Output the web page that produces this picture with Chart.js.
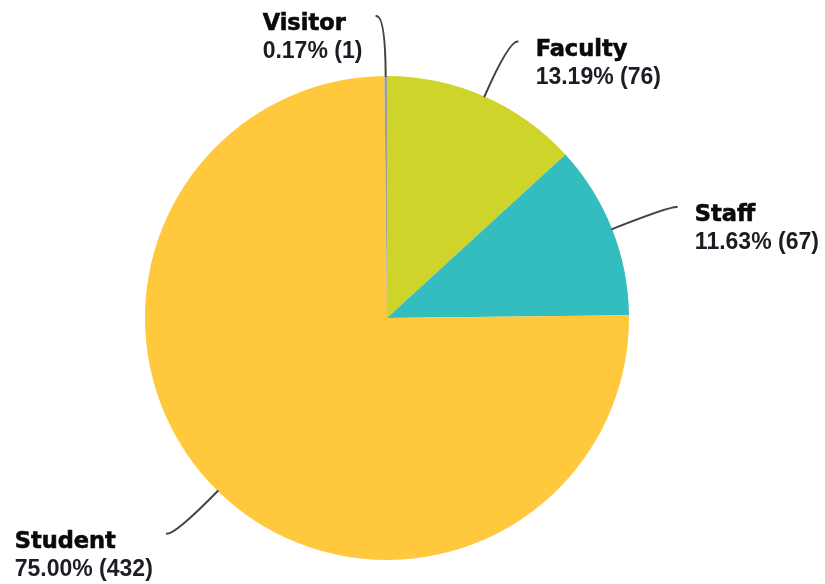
<!DOCTYPE html>
<html>
<head>
<meta charset="utf-8">
<script src="https://cdn.jsdelivr.net/npm/chart.js@4/dist/chart.umd.min.js"></script>
<style>
  html, body { margin: 0; padding: 0; background: #fff; }
  #wrap { width: 825px; height: 584px; position: relative; }
</style>
</head>
<body>
<div id="wrap"><canvas id="pie"></canvas></div>
<script>
(function () {
  "use strict";

  // ─── Data ──────────────────────────────────────────────────────────────────

  const categories = ["Faculty", "Staff", "Student", "Visitor"];
  const counts = [76, 67, 432, 1];
  const percentLabels = ["13.19%", "11.63%", "75.00%", "0.17%"];
  const colors = ["#CFD42A", "#33BDBF", "#FFC83D", "#9E9E9E"];

  // ─── Leader-line labels ───────────────────────────────────────────────────

  const NAME_FONT = "bold 22.5px 'DejaVu Sans', sans-serif";
  const VALUE_FONT = "bold 23px 'Liberation Sans', Arial, sans-serif";

  const calloutPlugin = {
    id: "callouts",
    afterDatasetsDraw(chart) {
      const ctx = chart.ctx;
      const meta = chart.getDatasetMeta(0);
      meta.data.forEach((arc, i) => {
        const mid = (arc.startAngle + arc.endAngle) / 2;
        const dx = Math.cos(mid);
        const dy = Math.sin(mid);
        const right = dx >= 0;
        const x0 = arc.x + dx * arc.outerRadius;
        const y0 = arc.y + dy * arc.outerRadius;
        const cx = x0 + dx * 60;
        const cy = y0 + dy * 60;
        const ex = cx + (right ? 9 : -9);
        const ey = cy;

        ctx.save();
        ctx.strokeStyle = "#444";
        ctx.lineWidth = 2;
        ctx.lineCap = "round";
        ctx.beginPath();
        ctx.moveTo(x0, y0);
        ctx.quadraticCurveTo(cx, cy, ex, ey);
        ctx.stroke();

        const name = categories[i];
        const value = percentLabels[i] + " (" + counts[i] + ")";
        ctx.font = NAME_FONT;
        const wName = ctx.measureText(name).width;
        ctx.font = VALUE_FONT;
        const wValue = ctx.measureText(value).width;
        const blockW = Math.max(wName, wValue);
        const tx = right ? ex + 18 : ex - 14 - blockW;
        const base = ey + 14;

        ctx.textAlign = "left";
        ctx.textBaseline = "alphabetic";
        ctx.fillStyle = "#0a0a0a";
        ctx.strokeStyle = "#0a0a0a";
        ctx.lineWidth = 0.6;
        ctx.font = NAME_FONT;
        ctx.fillText(name, tx, base);
        ctx.strokeText(name, tx, base);
        ctx.fillStyle = "#1c1c24";
        ctx.font = VALUE_FONT;
        ctx.fillText(value, tx, base + 28);
        ctx.restore();
      });
    }
  };

  // ─── Chart ─────────────────────────────────────────────────────────────────

  new Chart(document.getElementById("pie"), {
    type: "pie",
    data: {
      labels: categories,
      datasets: [{
        data: counts,
        backgroundColor: colors,
        borderWidth: 0
      }]
    },
    options: {
      responsive: true,
      maintainAspectRatio: false,
      devicePixelRatio: 1,
      animation: false,
      layout: { padding: { top: 76, bottom: 24, left: 145, right: 196 } },
      plugins: {
        legend: { display: false },
        tooltip: { enabled: false }
      }
    },
    plugins: [calloutPlugin]
  });
})();
</script>
</body>
</html>
